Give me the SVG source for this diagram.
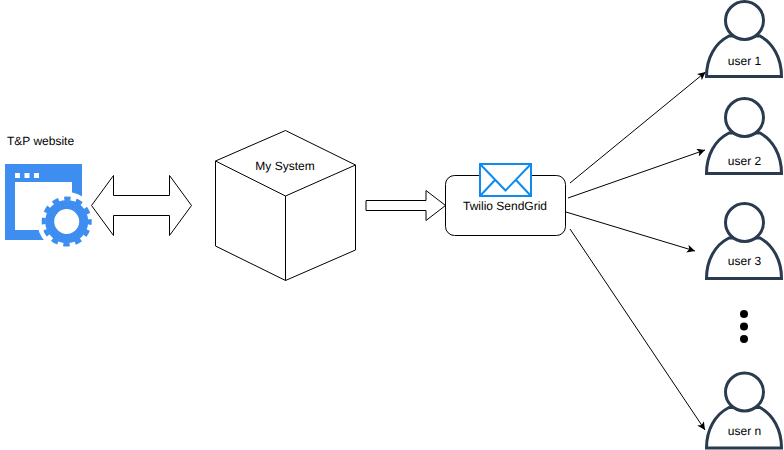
<svg xmlns="http://www.w3.org/2000/svg" width="784" height="450" viewBox="0 0 784 450">
<defs>
<style>
text{font-family:"Liberation Sans",Arial,sans-serif;font-size:12px;fill:#000;text-anchor:middle;text-rendering:geometricPrecision}
.o{fill:#fff;stroke:#000;stroke-width:1;stroke-linejoin:miter}
.c{fill:none;stroke:#000;stroke-width:1}
.u{fill:#fff;stroke:#2a3a4f;stroke-width:3}
</style>
<marker id="a" markerUnits="userSpaceOnUse" markerWidth="10" markerHeight="10" refX="8" refY="4" orient="auto"><path d="M0 0L8 4L0 8L2 4Z" fill="#000"/></marker>
<g id="user"><path class="u" d="M706.500 76.500C706.500 58 715 43 729 36H760C773 43 781.500 58 781.500 76.500Z"/><circle class="u" cx="744.500" cy="20.500" r="19"/></g>
</defs>
<g id="connectors">
<path class="c" d="M570 183L705.500 72" marker-end="url(#a)"/>
<path class="c" d="M568 198L705 150" marker-end="url(#a)"/>
<path class="c" d="M566 212L695 251" marker-end="url(#a)"/>
<path class="c" d="M570 229L705 430" marker-end="url(#a)"/>
</g>
<g id="website">
<text x="40.500" y="145">T&amp;P website</text>
<rect x="5" y="164" width="77" height="76" fill="#3d8ef0"/>
<rect x="15" y="182" width="57" height="48" fill="#fff"/>
<rect x="15" y="173" width="5" height="5" fill="#fff"/><rect x="24.500" y="173" width="5" height="5" fill="#fff"/><rect x="34" y="173" width="5" height="5" fill="#fff"/>
<circle cx="66.700" cy="221.500" r="29.500" fill="#fff"/>
<circle cx="66.700" cy="221.500" r="17" fill="none" stroke="#3d8ef0" stroke-width="9"/>
<circle cx="66.700" cy="221.500" r="23" fill="none" stroke="#3d8ef0" stroke-width="4" stroke-dasharray="6.500 5.543" stroke-dashoffset="3.250"/>
</g>
<g id="double-arrow"><path class="o" d="M91.500 205.500L113.500 175.500V195.500H169.500V175.500L191.500 205.500L169.500 235.500V215.500H113.500V235.500Z"/></g>
<g id="my-system">
<path class="o" d="M215.500 161L285.500 130.500L355.500 165V250L285.500 280.500L215.500 246Z"/>
<path class="c" d="M215.500 161L285.500 196V280.500M285.500 196L355.500 165"/>
<text x="285" y="170">My System</text>
</g>
<g id="arrow"><path class="o" d="M366 200.500H426V190.500L445.500 205.500L426 220.500V210.500H366Z"/></g>
<g id="sendgrid">
<rect class="o" x="445.500" y="175.500" width="120" height="60" rx="9"/>
<g stroke="#0f8bef" stroke-width="2" fill="#fff"><rect x="480" y="164" width="51" height="32"/><path fill="none" d="M480 164L505.500 190.500L531 164M480 196L495 180M531 196L516 180"/></g>
<text x="505" y="210">Twilio SendGrid</text>
</g>
<g id="user-1"><use href="#user"/><text x="744.500" y="65">user 1</text></g>
<g id="user-2"><use href="#user" y="97"/><text x="744.500" y="165">user 2</text></g>
<g id="user-3"><use href="#user" y="202"/><text x="744.500" y="265">user 3</text></g>
<g id="dots"><circle cx="744" cy="314" r="4"/><circle cx="744" cy="326.500" r="4"/><circle cx="744" cy="339" r="4"/></g>
<g id="user-n"><use href="#user" y="371.500"/><text x="744.500" y="435">user n</text></g>
</svg>
